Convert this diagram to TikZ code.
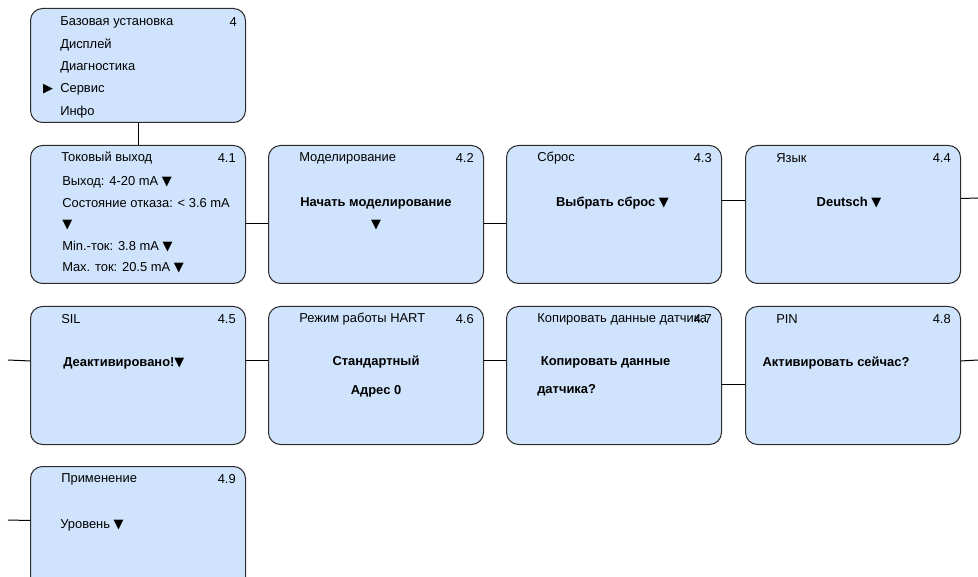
\documentclass[tikz,border=0pt]{standalone}
\usepackage{fontspec}
\setmainfont{Liberation Sans}
\newfontfamily\symfont{DejaVu Sans}
\usetikzlibrary{calc}
\definecolor{menufill}{HTML}{D0E3FC}
\definecolor{frame}{HTML}{2B2B2B}
\newcommand{\tridown}{{\symfont\char"25BC}}
\newcommand{\triright}{{\symfont\char"25B6}}
\tikzset{
  menu/.style={draw=frame,fill=menufill,rounded corners=9pt,line width=0.75pt,
    minimum width=161.25pt,minimum height=#1,anchor=north west,inner sep=0pt},
  menu/.default=103.5pt,
  ttl/.style={anchor=west,inner sep=0pt,font=\fontsize{9.7}{11}\selectfont},
  num/.style={anchor=east,inner sep=0pt,font=\fontsize{9.7}{11}\selectfont},
  entry/.style={anchor=west,inner sep=0pt,font=\fontsize{9.7}{11}\selectfont},
  value/.style={inner sep=0pt,font=\fontsize{9.7}{16.5}\selectfont\bfseries,align=center},
  link/.style={draw=black,line width=0.75pt},
}

\begin{document}
\begin{tikzpicture}[x=0.75pt,y=-0.75pt]
    \useasboundingbox (0,0) rectangle (978,577);
    \clip (0,0) rectangle (978,577);

    % main menu
    \node[menu=85.5pt] (b4) at (30,8) {};
    \node[ttl] (b4t) at (60,22) {Базовая установка};
    \node[num] (b4n) at (237,22) {4};
    \foreach \t [count=\i] in {Дисплей,Диагностика,Сервис,Инфо}
      \node[entry] (m\i) at (60,{22+\i*22.5}) {\t};
    \node[inner sep=0pt,font=\fontsize{9.7}{11}\selectfont] (sel) at (48,89.5) {\triright};

    % sub menus
    \foreach \nm/\x/\y/\ttlx/\num in {
        b41/30/145/Токовый выход/4.1, b42/268/145/Моделирование/4.2,
        b43/506/145/Сброс/4.3, b44/745/145/Язык/4.4,
        b45/30/306/SIL/4.5, b46/268/306/Режим работы HART/4.6,
        b47/506/306/Копировать данные датчика/4.7, b48/745/306/PIN/4.8,
        b49/30/466/Применение/4.9} {
      \node[menu] (\nm) at (\x,\y) {};
      \node[ttl] (\nm t) at (\x+31,\y+13) {\ttlx};
      \node[num] (\nm n) at (\x+206,\y+13) {\num};
    }

    \node[entry] (o1) at (62,182) {Выход: 4-20 mA \tridown};
    \node[entry] (o2) at (62,203.5) {Состояние отказа: < 3.6 mA};
    \node[entry] (o3) at (62,225) {\tridown};
    \node[entry] (o4) at (62,246.5) {Min.-ток: 3.8 mA \tridown};
    \node[entry] (o5) at (62,268) {Max. ток: 20.5 mA \tridown};

    \node[value] (v42) at (376,214) {Начать моделирование\\\tridown};
    \node[value] (v43) at (612.5,203) {Выбрать сброс \tridown};
    \node[value] (v44) at (849,203) {Deutsch \tridown};
    \node[value,anchor=west] (v45) at (63,363) {Деактивировано!\tridown};
    \node[value] (v46) at (376,376.5) {Стандартный\\[5pt]Адрес 0};
    \node[value,anchor=west,align=left] (v47) at (537,376.5)
      {\ Копировать данные\\[5pt]датчика?};
    \node[value] (v48) at (836,363) {Активировать сейчас?};
    \node[entry] (v49) at (60,525) {Уровень \tridown};

    % connectors
    \coordinate (r1) at (978,198);
    \coordinate (l2) at (8,360);
    \coordinate (r2) at (978,360);
    \coordinate (l3) at (8,520);
    \draw[link] (b4.south) -- (b41.north);
    \draw[link] ([yshift=-6.75pt]b41.east) -- ([yshift=-6.75pt]b42.west);
    \draw[link] ([yshift=-6.75pt]b42.east) -- ([yshift=-6.75pt]b43.west);
    \draw[link] ([yshift=10.5pt]b43.east) -- ([yshift=10.5pt]b44.west);
    \draw[link] ([yshift=12pt]b44.east) -- (r1);
    \draw[link] (l2) -- ([yshift=10.9pt]b45.west);
    \draw[link] ([yshift=10.9pt]b45.east) -- ([yshift=10.9pt]b46.west);
    \draw[link] ([yshift=10.9pt]b46.east) -- ([yshift=10.9pt]b47.west);
    \draw[link] ([yshift=-6.4pt]b47.east) -- ([yshift=-6.4pt]b48.west);
    \draw[link] ([yshift=10.9pt]b48.east) -- (r2);
    \draw[link] (l3) -- ([yshift=11.25pt]b49.west);
\end{tikzpicture}
\end{document}
